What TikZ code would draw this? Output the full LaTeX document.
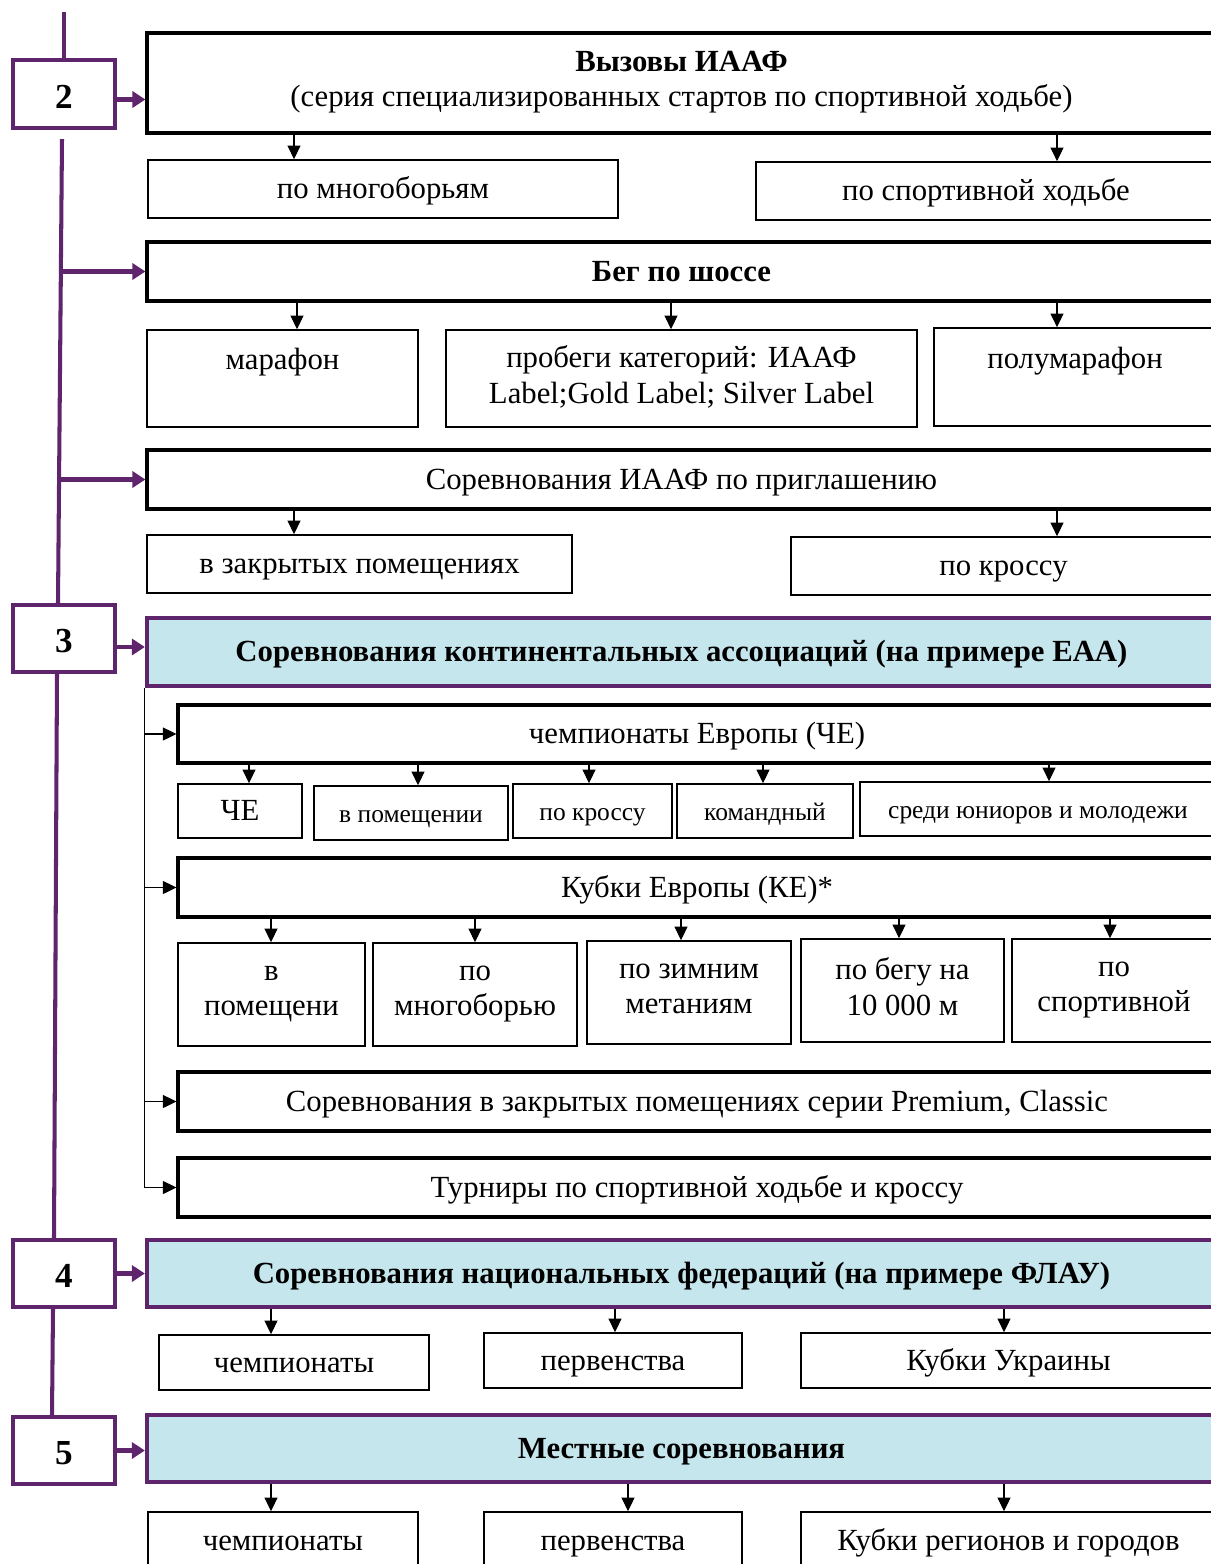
\documentclass[tikz,border=0pt]{standalone}
\usepackage{fontspec}
\setmainfont{Liberation Serif}
\usetikzlibrary{arrows.meta, positioning}
\definecolor{lilac}{RGB}{94,36,108}
\definecolor{paleblue}{RGB}{197,230,236}
% box given by its corners in pixel units
\newcommand{\putbox}[7]{\node[#1, minimum width={(#5-#3)*0.02cm}, minimum height={(#6-#4)*0.02cm}] (#2) at ({(#3+#5)/2},{(#4+#6)/2}) {#7};}
\newcommand{\dn}[3]{\draw[arr] (#3,0 |- #1.south) -- (#3,0 |- #2.north);}
\newcommand{\tstrut}{\rule[-4.5pt]{0pt}{20pt}}

\begin{document}
\begin{tikzpicture}[
  x=0.02cm, y=-0.02cm,
  every node/.style = {font=\fontsize{17.5}{20}\selectfont, align=center, inner sep=2pt,
                       execute at begin node=\tstrut, execute at end node=\tstrut},
  plainbox/.style = {draw, line width=1pt, fill=white},
  smallbox/.style = {plainbox, font=\fontsize{14.5}{17}\selectfont},
  boldbox/.style  = {draw, line width=1.8pt, fill=white},
  headbox/.style  = {draw=lilac, line width=2.4pt, fill=paleblue,
                     font=\bfseries\fontsize{17.5}{20}\selectfont},
  numbox/.style   = {draw=lilac, line width=2.4pt, fill=white,
                     font=\bfseries\fontsize{20}{24}\selectfont,
                     text height=16.3pt, text depth=0pt},
  upper/.style    = {text height=15.5pt, text depth=25.5pt},
  arr/.style      = {-{Triangle[length=0.27cm,width=0.26cm]}, line width=0.6pt},
  parr/.style     = {-{Triangle[length=0.26cm,width=0.32cm]}, line width=2.6pt, lilac},
  pline/.style    = {line width=2.3pt, lilac},
]
  \useasboundingbox (0,0) rectangle (1210,1564);

  % levels
  \putbox{numbox}{n2}{13}{60}{115}{128}{2}
  \putbox{numbox}{n3}{13}{605}{115}{672}{3}
  \putbox{numbox}{n4}{13}{1240}{115}{1307}{4}
  \putbox{numbox}{n5}{13}{1417}{115}{1484}{5}

  % IAAF
  \putbox{boldbox}{vyz}{147}{33}{1216}{133}{\textbf{Вызовы ИААФ}\\(серия специализированных стартов по спортивной ходьбе)}
  \putbox{plainbox}{mnog}{148}{160}{618}{218}{по многоборьям}
  \putbox{plainbox}{hodba}{756}{162}{1216}{220}{по спортивной ходьбе}
  \putbox{boldbox}{shosse}{147}{242}{1216}{301}{\textbf{Бег по шоссе}}
  \putbox{plainbox, upper}{marafon}{147}{330}{418}{427}{марафон}
  \putbox{plainbox}{probeg}{446}{330}{917}{427}{пробеги категорий: ИААФ\\Label;Gold Label; Silver Label}
  \putbox{plainbox, upper}{polu}{934}{328}{1216}{426}{полумарафон}
  \putbox{boldbox}{invit}{147}{450}{1216}{509}{Соревнования ИААФ по приглашению}
  \putbox{plainbox}{indoor}{147}{535}{572}{593}{в закрытых помещениях}
  \putbox{plainbox}{cross}{791}{537}{1216}{595}{по кроссу}

  % EAA
  \putbox{headbox}{eaa}{147}{618}{1216}{686}{Соревнования континентальных ассоциаций (на примере ЕАА)}
  \putbox{boldbox}{ch}{178}{705}{1216}{763}{чемпионаты Европы (ЧЕ)}
  \putbox{plainbox}{chA}{178}{784}{302}{838}{ЧЕ}
  \putbox{smallbox}{chB}{314}{786}{508}{840}{в помещении}
  \putbox{smallbox}{chC}{513}{784}{672}{838}{по кроссу}
  \putbox{smallbox}{chD}{677}{784}{853}{838}{командный}
  \putbox{smallbox}{chE}{860}{782}{1216}{836}{среди юниоров и молодежи}
  \putbox{boldbox}{cup}{178}{858}{1216}{917}{Кубки Европы (КЕ)*}
  \putbox{plainbox}{cupA}{178}{943}{365}{1046}{в\\помещени}
  \putbox{plainbox}{cupB}{373}{943}{577}{1046}{по\\многоборью}
  \putbox{plainbox}{cupC}{587}{941}{791}{1044}{по зимним\\метаниям}
  \putbox{plainbox}{cupD}{801}{939}{1004}{1042}{по бегу на\\10 000 м}
  \putbox{plainbox}{cupE}{1012}{939}{1216}{1042}{по\\спортивной}
  \putbox{boldbox}{prem}{178}{1072}{1216}{1131}{Соревнования в закрытых помещениях серии Premium, Classic}
  \putbox{boldbox}{tour}{178}{1158}{1216}{1217}{Турниры по спортивной ходьбе и кроссу}

  % national and local
  \putbox{headbox}{fed}{147}{1240}{1216}{1307}{Соревнования национальных федераций (на примере ФЛАУ)}
  \putbox{plainbox}{fedA}{159}{1335}{429}{1390}{чемпионаты}
  \putbox{plainbox}{fedB}{484}{1333}{742}{1388}{первенства}
  \putbox{plainbox}{fedC}{801}{1333}{1216}{1388}{Кубки Украины}
  \putbox{headbox}{loc}{147}{1415}{1216}{1482}{Местные соревнования}
  \putbox{plainbox}{locA}{148}{1512}{418}{1570}{чемпионаты}
  \putbox{plainbox}{locB}{484}{1512}{742}{1570}{первенства}
  \putbox{plainbox}{locC}{801}{1512}{1216}{1570}{Кубки регионов и городов}

  % purple spine
  \coordinate (top) at (64,12);
  \draw[pline] (top) -- (n2.north);
  \draw[pline] ([xshift=-0.04cm, yshift=-0.18cm]n2.south) -- ([xshift=-0.12cm]n3.north);
  \draw[pline] ([xshift=-0.14cm]n3.south) -- ([xshift=-0.2cm]n4.north);
  \draw[pline] ([xshift=-0.22cm]n4.south) -- ([xshift=-0.24cm]n5.north);
  \draw[parr] ([xshift=-0.06cm]n2.south |- shosse.west) -- (shosse.west);
  \draw[parr] ([xshift=-0.08cm]n2.south |- invit.west) -- (invit.west);
  \draw[parr] ([yshift=-0.11cm]n2.east) -- ([yshift=-0.11cm]n2.east -| vyz.west);
  \draw[parr] ([yshift=-0.17cm]n3.east) -- ([yshift=-0.17cm]n3.east -| eaa.west);
  \draw[parr] (n4.east) -- (n4.east -| fed.west);
  \draw[parr] (n5.east) -- (n5.east -| loc.west);

  % EAA branch
  \draw[line width=0.6pt] (eaa.south west) -- (eaa.south west |- tour.west);
  \foreach \b in {ch, cup, prem, tour}
    \draw[arr] (eaa.south west |- \b.west) -- (\b.west);

  % down arrows
  \dn{vyz}{mnog}{294}
  \dn{vyz}{hodba}{1057}
  \dn{shosse}{marafon}{297}
  \dn{shosse}{probeg}{671}
  \dn{shosse}{polu}{1057}
  \dn{invit}{indoor}{294}
  \dn{invit}{cross}{1057}
  \dn{ch}{chA}{249}
  \dn{ch}{chB}{418}
  \dn{ch}{chC}{589}
  \dn{ch}{chD}{763}
  \dn{ch}{chE}{1049}
  \dn{cup}{cupA}{271}
  \dn{cup}{cupB}{475}
  \dn{cup}{cupC}{681}
  \dn{cup}{cupD}{899}
  \dn{cup}{cupE}{1110}
  \dn{fed}{fedA}{271}
  \dn{fed}{fedB}{615}
  \dn{fed}{fedC}{1004}
  \dn{loc}{locA}{271}
  \dn{loc}{locB}{628}
  \dn{loc}{locC}{1004}
\end{tikzpicture}
\end{document}
